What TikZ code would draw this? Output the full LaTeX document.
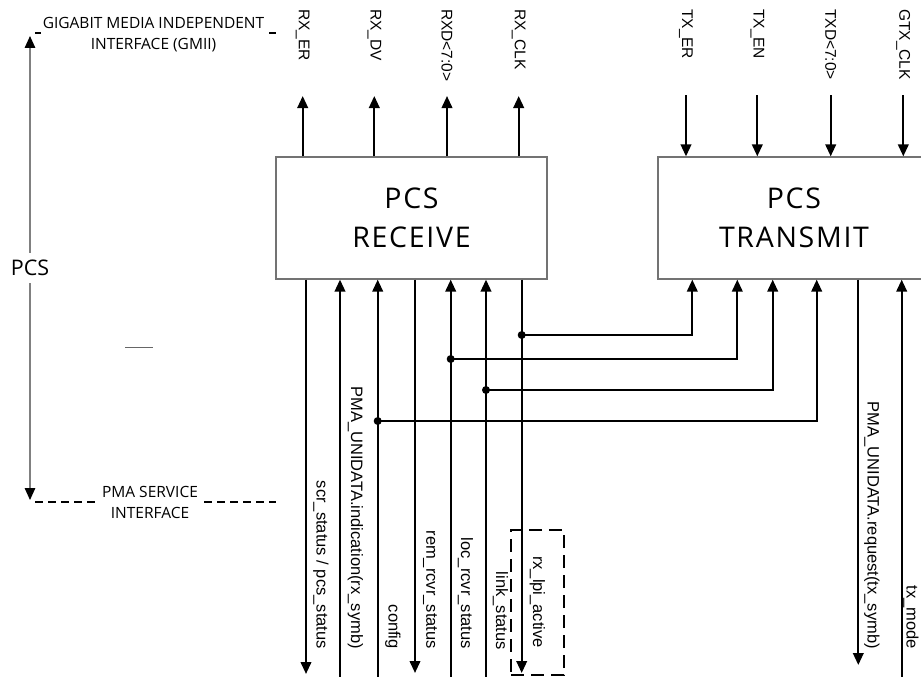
\documentclass[tikz,border=0pt]{standalone}
\usepackage{fontspec}
\setmainfont{Open Sans}
\newfontfamily\sigfont{Liberation Sans}
\newfontfamily\boxfont[LetterSpace=6]{Open Sans}
\usetikzlibrary{arrows.meta}
\begin{document}
\begin{tikzpicture}[x=1pt,y=-1pt,
  sig/.style={line width=2.2pt, draw=black},
  arr/.style={-{Triangle[length=12pt,width=10.5pt]}},
  blk/.style={draw=black!55, line width=1.2pt, align=center, inner sep=0pt,
    font={\boxfont\fontsize{28.5}{39}\selectfont}},
  jdot/.style={circle, fill=black, inner sep=0pt, minimum size=8pt},
  toplab/.style={font={\sigfont\fontsize{15.5}{18}\selectfont}, rotate=-90, anchor=west, inner sep=0pt},
  botlab/.style={font={\sigfont\fontsize{16.5}{19}\selectfont}, rotate=-90, anchor=east, inner sep=0pt},
  ifdash/.style={draw=black, line width=1.6pt, dash pattern=on 8pt off 5pt},
  iflab/.style={fill=white, align=center, inner xsep=2pt, inner ysep=1pt, font={\fontsize{15.5}{21}\selectfont}},
  ]
\useasboundingbox (0,0) rectangle (921,677);
\clip (0,0) rectangle (921,677);

% interface boundaries
\coordinate (g1) at (35,33); \coordinate (g2) at (276,33);
\draw[ifdash] (g1) -- (g2);
\node[iflab] (gmii) at (153.5,34.5) {GIGABIT MEDIA INDEPENDENT\\INTERFACE (GMII)};
\coordinate (p1) at (35,502); \coordinate (p2) at (276,502);
\draw[ifdash] (p1) -- (p2);
\node[iflab, inner xsep=3pt] (pma) at (150,502) {PMA SERVICE\\INTERFACE};

% PCS extent arrow
\coordinate (pcsT) at (30,36); \coordinate (pcsB) at (30,500);
\draw[draw=black!50, line width=1.4pt,
  {Triangle[length=12pt,width=10.5pt,color=black,fill=black]}-{Triangle[length=12pt,width=10.5pt,color=black,fill=black]}]
  (pcsT) -- (pcsB);
\node[fill=white, inner xsep=2pt, inner ysep=7pt, font={\fontsize{21.5}{24}\selectfont}] (pcs) at (30,268) {PCS};
\coordinate (m1) at (125,347); \coordinate (m2) at (153,347);
\draw[draw=black!60, line width=1pt] (m1) -- (m2);

% blocks
\node[blk, minimum width=271pt, minimum height=122pt] (rx) at (411.5,218) {PCS\\RECEIVE};
\node[blk, minimum width=272pt, minimum height=122pt] (tx) at (794,218) {PCS\\TRANSMIT};

% GMII receive side
\foreach \x/\n/\l in {302.7/rxer/RX\_ER, 374.3/rxdv/RX\_DV, 447/rxd/RXD<7:0>, 518.7/rxclk/RX\_CLK}{
  \coordinate (\n) at (\x,96);
  \draw[sig,arr] (rx.north -| \n) -- (\n);
  \node[toplab] (\n lab) at (\x,9) {\l};
}
% GMII transmit side
\foreach \x/\n/\l in {686/txer/TX\_ER, 757.3/txen/TX\_EN, 830.7/txd/TXD<7:0>, 903.3/gtxclk/GTX\_CLK}{
  \coordinate (\n) at (\x,95);
  \draw[sig,arr] (\n) -- (tx.north -| \n);
  \node[toplab] (\n lab) at (\x,9) {\l};
}

% receive bottom signals
\coordinate (ra) at (306,674);
\coordinate (rb) at (340,678);
\coordinate (rc) at (377.7,678);
\coordinate (rd) at (415,673);
\coordinate (re) at (450.7,678);
\coordinate (rf) at (486,678);
\coordinate (rg) at (521.7,673);
\draw[sig,arr] (rx.south -| ra) -- (ra);
\draw[sig,arr] (rb) -- (rx.south -| rb);
\draw[sig,arr] (rc) -- (rx.south -| rc);
\draw[sig,arr] (rx.south -| rd) -- (rd);
\draw[sig,arr] (re) -- (rx.south -| re);
\draw[sig,arr] (rf) -- (rx.south -| rf);
\draw[sig,arr] (rx.south -| rg) -- (rg);

% transmit bottom columns
\coordinate (t1) at (692.3,0);
\coordinate (t2) at (737.3,0);
\coordinate (t3) at (772.7,0);
\coordinate (t4) at (816.7,0);
\coordinate (tq) at (858.3,665);
\coordinate (tm) at (901.7,678);

% junctions
\node[jdot] (dg) at (521.7,335) {};
\node[jdot] (de) at (450.7,359) {};
\node[jdot] (df) at (486,390) {};
\node[jdot] (dc) at (377.7,421) {};
\draw[sig,arr] (dg.center) -| (tx.south -| t1);
\draw[sig,arr] (de.center) -| (tx.south -| t2);
\draw[sig,arr] (df.center) -| (tx.south -| t3);
\draw[sig,arr] (dc.center) -| (tx.south -| t4);
\draw[sig,arr] (tx.south -| tq) -- (tq);
\draw[sig,arr] (tm) -- (tx.south -| tm);

% lpi dashed box
\node[draw=black, line width=1.3pt, dash pattern=on 13pt off 7pt, minimum width=53pt, minimum height=145pt, inner sep=0pt] (lpibox) at (537.5,602.5) {};

% bottom labels
\node[botlab] (la) at (321,649) {scr\_status / pcs\_status};
\node[botlab] (lb) at (355.5,649) {PMA\_UNIDATA.indication(rx\_symb)};
\node[botlab] (lc) at (393,649) {config};
\node[botlab] (ld) at (430,649) {rem\_rcvr\_status};
\node[botlab] (le) at (465.5,649) {loc\_rcvr\_status};
\node[botlab] (lf) at (500.5,650) {link\_status};
\node[botlab] (lg) at (537.5,648) {rx\_lpi\_active};
\node[botlab] (lq) at (872,649) {PMA\_UNIDATA.request(tx\_symb)};
\node[botlab] (lm) at (911,649) {tx\_mode};
\end{tikzpicture}
\end{document}
